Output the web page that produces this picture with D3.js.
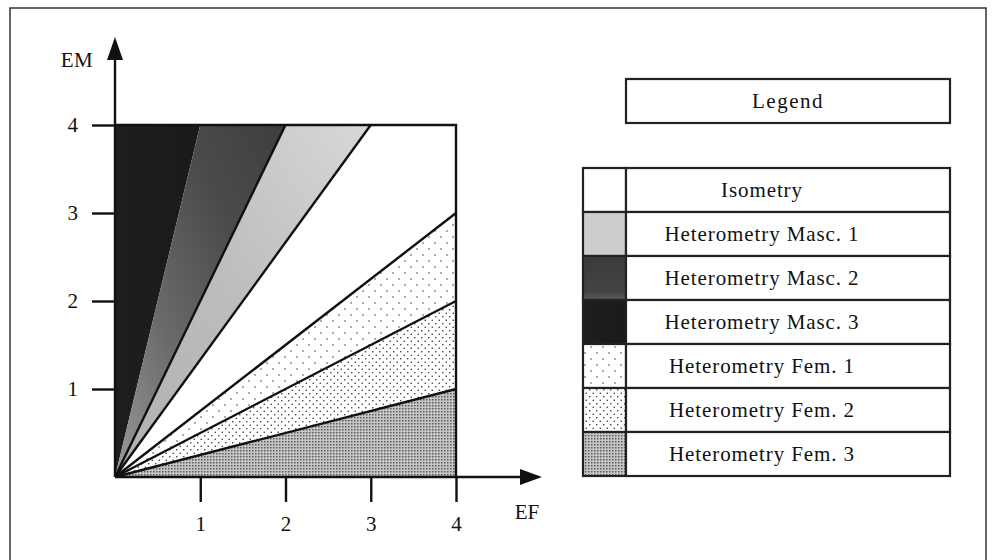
<!DOCTYPE html>
<html>
<head>
<meta charset="utf-8">
<script src="https://cdn.jsdelivr.net/npm/d3@7"></script>
<style>
  body { margin: 0; background: #fff; }
  svg { display: block; }
  text { font-family: "Liberation Serif", "DejaVu Serif", serif; fill: #111; }
</style>
</head>
<body>
<svg id="board" width="996" height="560"></svg>
<script>
// ---- data ----
var xTicks = [1, 2, 3, 4]
var yTicks = [1, 2, 3, 4]
// wedge order from the EM axis round to the EF axis
var wedgeNames = ["Heterometry Masc. 3", "Heterometry Masc. 2", "Heterometry Masc. 1", "Isometry",
                  "Heterometry Fem. 1", "Heterometry Fem. 2", "Heterometry Fem. 3"]
// where each boundary ray meets the box outline (EF, EM)
var rayEnds = [[0, 4], [1, 4], [2, 4], [3, 4], [4, 3], [4, 2], [4, 1], [4, 0]]
// rays drawn as black lines (index into rayEnds)
var drawnRays = [2, 3, 4, 5, 6]
var legendRows = ["Isometry", "Heterometry Masc. 1", "Heterometry Masc. 2", "Heterometry Masc. 3",
                  "Heterometry Fem. 1", "Heterometry Fem. 2", "Heterometry Fem. 3"]

var svg = d3.select("#board")
var x = d3.scaleLinear().domain([0, 4]).range([115, 456])
var y = d3.scaleLinear().domain([0, 4]).range([477, 125])

// fills
var defs = svg.append("defs")
function grad(id, x1, y1, x2, y2, stops) {
  var g = defs.append("linearGradient").attr("id", id).attr("x1", x1).attr("y1", y1).attr("x2", x2).attr("y2", y2)
  stops.forEach(function (s) { g.append("stop").attr("offset", s[0]).attr("stop-color", s[1]) })
}
grad("masc3", 0, 0, 1, 0, [[0, "#1e1e1e"], [1, "#1a1a1a"]])
grad("masc2", 0, 1, 1, 0, [[0, "#9a9a9a"], [0.35, "#6a6a6a"], [0.7, "#4a4a4a"], [1, "#3e3e3e"]])
grad("masc1", 0, 1, 1, 0, [[0, "#b0b0b0"], [0.5, "#bdbdbd"], [1, "#d8d8d8"]])
grad("leg2", 0, 0, 0, 1, [[0, "#3a3a3a"], [0.8, "#444"], [1, "#5a5a5a"]])

function dots(id, size, r, bg, col, stagger) {
  var p = defs.append("pattern").attr("id", id).attr("patternUnits", "userSpaceOnUse")
    .attr("width", size).attr("height", size)
  p.append("rect").attr("width", size).attr("height", size).attr("fill", bg)
  p.append("circle").attr("cx", size / 4).attr("cy", size / 4).attr("r", r).attr("fill", col)
  if (stagger) p.append("circle").attr("cx", size * 3 / 4).attr("cy", size * 3 / 4).attr("r", r).attr("fill", col)
}
dots("fem1", 12, 0.8, "#fff", "#444", true)
dots("fem2", 7, 0.8, "#fff", "#333", true)
dots("fem3", 3, 0.85, "#c6c6c6", "#555", false)

var fills = {
  "Isometry": "#fff",
  "Heterometry Masc. 1": "url(#masc1)",
  "Heterometry Masc. 2": "url(#masc2)",
  "Heterometry Masc. 3": "url(#masc3)",
  "Heterometry Fem. 1": "url(#fem1)",
  "Heterometry Fem. 2": "url(#fem2)",
  "Heterometry Fem. 3": "url(#fem3)"
}
var legendFills = Object.assign({}, fills, { "Heterometry Masc. 2": "url(#leg2)", "Heterometry Masc. 1": "#cdcdcd" })

// outer frame
svg.append("rect").attr("x", 10).attr("y", 8).attr("width", 976).attr("height", 620)
  .attr("fill", "none").attr("stroke", "#333").attr("stroke-width", 1.5)

// wedges
var line = d3.line().x(function (d) { return x(d[0]) }).y(function (d) { return y(d[1]) })
wedgeNames.forEach(function (name, i) {
  var a = rayEnds[i], b = rayEnds[i + 1]
  var pts = [[0, 0], a]
  if (a[1] === 4 && b[0] === 4 && a[0] !== 4) pts.push([4, 4])
  pts.push(b)
  svg.append("path").attr("d", line(pts) + "Z").attr("fill", fills[name])
})

// boundary rays
drawnRays.forEach(function (k) {
  svg.append("path").attr("d", line([[0, 0], rayEnds[k]]))
    .attr("stroke", "#111").attr("stroke-width", 2.4).attr("fill", "none")
})

// plot box (top and right)
svg.append("path").attr("d", line([[0, 4], [4, 4], [4, 0]]))
  .attr("fill", "none").attr("stroke", "#111").attr("stroke-width", 2.4)

// axes with arrows
svg.append("line").attr("x1", x(0)).attr("y1", y(0)).attr("x2", x(0)).attr("y2", 58)
  .attr("stroke", "#111").attr("stroke-width", 2.4)
svg.append("path").attr("d", "M" + (x(0) - 8) + ",60L" + x(0) + ",37L" + (x(0) + 8) + ",60Z").attr("fill", "#111")
svg.append("line").attr("x1", x(0)).attr("y1", y(0)).attr("x2", 522).attr("y2", y(0))
  .attr("stroke", "#111").attr("stroke-width", 2.4)
svg.append("path").attr("d", "M520," + (y(0) - 8) + "L542," + y(0) + "L520," + (y(0) + 8) + "Z").attr("fill", "#111")

var xAxis = svg.append("g").attr("transform", "translate(0," + y(0) + ")")
  .call(d3.axisBottom(x).tickValues(xTicks).tickSize(25).tickPadding(14).tickFormat(d3.format("d")))
var yAxis = svg.append("g").attr("transform", "translate(" + x(0) + ",0)")
  .call(d3.axisLeft(y).tickValues(yTicks).tickSize(23).tickPadding(14).tickFormat(d3.format("d")))
;[xAxis, yAxis].forEach(function (g) {
  g.select(".domain").remove()
  g.selectAll(".tick line").attr("stroke", "#111").attr("stroke-width", 2.4)
  g.selectAll(".tick text").attr("font-size", 21).attr("font-family", "Liberation Serif").attr("fill", "#111")
})

svg.append("text").attr("x", 77).attr("y", 67).attr("text-anchor", "middle")
  .attr("font-size", 21).attr("letter-spacing", 0.5).text("EM")
svg.append("text").attr("x", 527).attr("y", 519).attr("text-anchor", "middle")
  .attr("font-size", 21).text("EF")

// legend title
svg.append("rect").attr("x", 626).attr("y", 79).attr("width", 324).attr("height", 44)
  .attr("fill", "#fff").attr("stroke", "#222").attr("stroke-width", 2.2)
svg.append("text").attr("x", 788).attr("y", 108).attr("text-anchor", "middle")
  .attr("font-size", 21).attr("letter-spacing", 1.5).text("Legend")

// legend table
var rowH = 44, top0 = 168
var rows = svg.append("g").selectAll("g").data(legendRows).join("g")
  .attr("transform", function (d, i) { return "translate(0," + (top0 + i * rowH) + ")" })
rows.append("rect").attr("x", 583).attr("width", 43).attr("height", rowH)
  .attr("fill", function (d) { return legendFills[d] }).attr("stroke", "#222").attr("stroke-width", 2.2)
rows.append("rect").attr("x", 626).attr("width", 324).attr("height", rowH)
  .attr("fill", "#fff").attr("stroke", "#222").attr("stroke-width", 2.2)
rows.append("text").attr("x", 762).attr("y", 29).attr("text-anchor", "middle")
  .attr("font-size", 21).attr("letter-spacing", 0.9).text(function (d) { return d })
</script>
</body>
</html>
